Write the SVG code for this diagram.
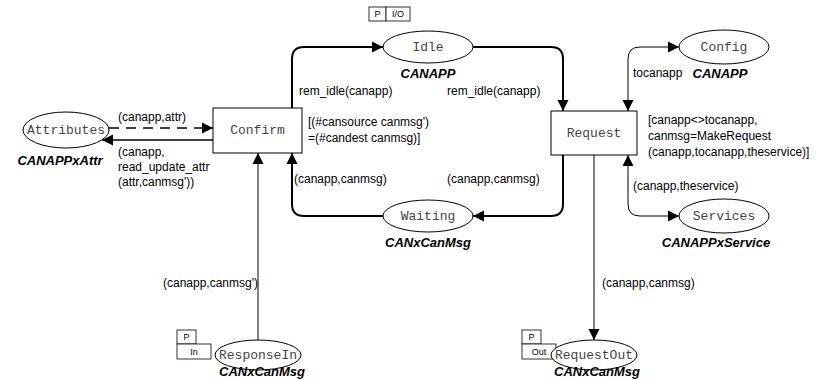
<svg xmlns="http://www.w3.org/2000/svg" width="825" height="380" viewBox="0 0 825 380">
  <style>
    .place { fill: #fff; stroke: #000; stroke-width: 1; }
    .trans { fill: #fff; stroke: #000; stroke-width: 1; }
    .tag { fill: #fff; stroke: #000; stroke-width: 0.8; }
    .name { font-family: "Liberation Mono", "Courier New", monospace; font-size: 13px; fill: #444; text-anchor: middle; dominant-baseline: central; }
    .type { font-family: "Liberation Sans", Arial, sans-serif; font-size: 13px; font-weight: bold; font-style: italic; fill: #000; text-anchor: middle; }
    .lbl { font-family: "Liberation Sans", Arial, sans-serif; font-size: 12px; fill: #000; }
    .tagtxt { font-family: "Liberation Sans", Arial, sans-serif; font-size: 9px; fill: #000; text-anchor: middle; dominant-baseline: central; }
    .arc { fill: none; stroke: #000; stroke-width: 1; }
    .thick { stroke-width: 2; }
    .dash { stroke-dasharray: 10 7; stroke-width: 1.3; }
  </style>
  <defs>
    <marker id="arrow" markerUnits="userSpaceOnUse" markerWidth="12" markerHeight="12" refX="11" refY="6" orient="auto-start-reverse">
      <path d="M0,0.5 L11,6 L0,11.5 z" fill="#000"/>
    </marker>
  </defs>

  <rect width="825" height="380" fill="#fff"/>

  <!-- connectors -->
  <g id="arcs">
    <path class="arc thick" d="M473,47 H551 Q563,47 563,59 V111" marker-end="url(#arrow)"/>
    <path class="arc thick" d="M292,108 V59 Q292,47 304,47 H383" marker-end="url(#arrow)"/>
    <path class="arc thick" d="M563,155 V204 Q563,216 551,216 H473" marker-end="url(#arrow)"/>
    <path class="arc thick" d="M383,216 H304 Q292,216 292,204 V153" marker-end="url(#arrow)"/>
    <path class="arc dash" d="M109,128 H213" marker-end="url(#arrow)"/>
    <path class="arc" style="stroke-width:1.3" d="M213,140 H102" marker-end="url(#arrow)"/>
    <path class="arc" d="M258,340 V153" marker-end="url(#arrow)"/>
    <path class="arc" d="M594,155 V340" marker-end="url(#arrow)"/>
    <path class="arc" d="M628,111 V59 Q628,47 640,47 H679" marker-start="url(#arrow)" marker-end="url(#arrow)"/>
    <path class="arc" d="M628,155 V204 Q628,216 640,216 H679" marker-start="url(#arrow)" marker-end="url(#arrow)"/>

    <text class="lbl" x="299" y="95">rem_idle(canapp)</text>
    <text class="lbl" x="447" y="95">rem_idle(canapp)</text>
    <text class="lbl" x="294" y="183">(canapp,canmsg)</text>
    <text class="lbl" x="447" y="183">(canapp,canmsg)</text>
    <text class="lbl" x="118" y="121">(canapp,attr)</text>
    <text class="lbl" x="118" y="156">(canapp,</text>
    <text class="lbl" x="118" y="171">read_update_attr</text>
    <text class="lbl" x="118" y="186">(attr,canmsg'))</text>
    <text class="lbl" x="163" y="287">(canapp,canmsg')</text>
    <text class="lbl" x="602" y="287">(canapp,canmsg)</text>
    <text class="lbl" x="633" y="77">tocanapp</text>
    <text class="lbl" x="633" y="190">(canapp,theservice)</text>
  </g>

  <g id="Idle">
    <rect class="tag" x="369" y="7" width="17" height="14"/>
    <rect class="tag" x="386" y="7" width="24" height="14"/>
    <text class="tagtxt" x="377.5" y="14">P</text>
    <text class="tagtxt" x="398" y="14">I/O</text>
    <ellipse class="place" cx="428" cy="47" rx="45" ry="16"/>
    <text class="name" x="428" y="47">Idle</text>
    <text class="type" x="428" y="78">CANAPP</text>
  </g>

  <g id="Waiting">
    <ellipse class="place" cx="428" cy="216" rx="45" ry="16"/>
    <text class="name" x="428" y="216">Waiting</text>
    <text class="type" x="428" y="247">CANxCanMsg</text>
  </g>

  <g id="Attributes">
    <ellipse class="place" cx="66" cy="130" rx="43" ry="18"/>
    <text class="name" x="66" y="130">Attributes</text>
    <text class="type" x="60" y="165">CANAPPxAttr</text>
  </g>

  <g id="Confirm">
    <rect class="trans" x="213" y="108" width="89" height="45"/>
    <text class="name" x="257.5" y="130.5">Confirm</text>
    <text class="lbl" x="308" y="126">[(#cansource canmsg')</text>
    <text class="lbl" x="308" y="142">=(#candest canmsg)]</text>
  </g>

  <g id="Request">
    <rect class="trans" x="551" y="111" width="86" height="44"/>
    <text class="name" x="594" y="133">Request</text>
    <text class="lbl" x="648" y="124">[canapp&lt;&gt;tocanapp,</text>
    <text class="lbl" x="648" y="140">canmsg=MakeRequest</text>
    <text class="lbl" x="648" y="156">(canapp,tocanapp,theservice)]</text>
  </g>

  <g id="Config">
    <ellipse class="place" cx="724" cy="47" rx="45" ry="17"/>
    <text class="name" x="724" y="47">Config</text>
    <text class="type" x="720" y="78">CANAPP</text>
  </g>

  <g id="Services">
    <ellipse class="place" cx="724" cy="216" rx="45" ry="17"/>
    <text class="name" x="724" y="216">Services</text>
    <text class="type" x="716" y="247">CANAPPxService</text>
  </g>

  <g id="ResponseIn">
    <rect class="tag" x="177" y="330" width="19" height="14"/>
    <rect class="tag" x="177" y="344" width="34" height="15"/>
    <text class="tagtxt" x="186.5" y="337">P</text>
    <text class="tagtxt" x="194" y="351.5">In</text>
    <ellipse class="place" cx="258" cy="355" rx="43" ry="15"/>
    <text class="name" x="258" y="355">ResponseIn</text>
    <text class="type" x="262" y="376">CANxCanMsg</text>
  </g>

  <g id="RequestOut">
    <rect class="tag" x="522" y="330" width="19" height="14"/>
    <rect class="tag" x="522" y="344" width="34" height="15"/>
    <text class="tagtxt" x="531.5" y="337">P</text>
    <text class="tagtxt" x="539" y="351.5">Out</text>
    <ellipse class="place" cx="594" cy="355" rx="43" ry="15"/>
    <text class="name" x="594" y="355">RequestOut</text>
    <text class="type" x="597" y="376">CANxCanMsg</text>
  </g>
</svg>
